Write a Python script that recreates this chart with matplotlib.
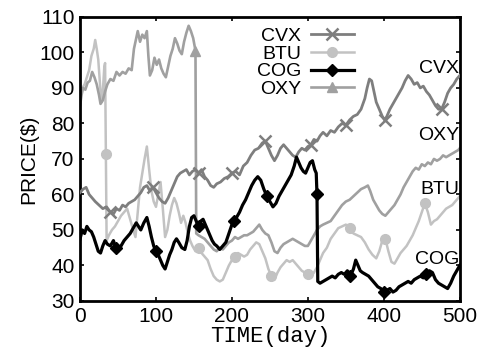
import numpy as np
import matplotlib
matplotlib.use("Agg")
import matplotlib.pyplot as plt
from matplotlib import font_manager

# price series (day, price)
cvx_days = [0, 4, 8, 12, 16, 20, 25, 30, 35, 40, 44, 48, 52, 56, 60, 64, 68, 72, 76, 80,
            84, 88, 92, 96, 100, 104, 108, 112, 116, 120, 124, 128, 132, 136, 140, 144, 148,
            152, 156, 160, 164, 168, 172, 176, 180, 185, 190, 195, 200, 205, 210, 215, 220,
            225, 230, 235, 240, 244, 248, 252, 256, 260, 264, 268, 272, 276, 280, 284, 288,
            292, 296, 300, 304, 308, 312, 316, 320, 325, 330, 335, 340, 345, 350, 355, 360,
            365, 370, 375, 378, 381, 384, 387, 390, 394, 398, 401, 404, 408, 412, 416, 420,
            424, 428, 432, 436, 440, 444, 448, 452, 456, 460, 464, 468, 472, 476, 480, 484,
            488, 492, 496, 500]
cvx = [60.5, 61.5, 62, 60, 59, 58, 57, 56, 56.5, 55, 54.5, 56, 55.5, 57, 56.5, 57.5, 58, 58.5,
       59.5, 60.5, 62, 62.5, 61, 62, 60.5, 59, 58, 57.5, 59, 61, 63, 65, 66, 66.5, 67, 65.5,
       66.5, 67, 66, 67, 65, 64, 62.5, 62, 63, 63.5, 64.5, 65, 66, 66.5, 65.5, 68, 69, 71,
       72.5, 73, 74.5, 75, 73, 71, 69.5, 71, 73, 74, 73, 72, 71, 70.5, 72, 73, 72.5, 73.5, 74,
       75.5, 75, 76.5, 77.5, 76.5, 78, 77.5, 79, 80, 79.5, 81, 82, 82.5, 84, 87, 90, 92.5, 92,
       89, 86, 84, 82, 81, 82, 84, 85.5, 87, 88.5, 90, 92, 93.5, 92.5, 91, 91.5, 90, 90.5, 89,
       88, 86.5, 85, 84, 84, 86, 88.5, 90, 91, 92.5, 93.5]

btu_days = [0, 3, 6, 9, 12, 15, 18, 20, 22, 24, 26, 28, 30, 32, 33, 34, 35, 38, 42, 46, 50,
            54, 58, 62, 66, 70, 73, 76, 79, 82, 85, 88, 91, 94, 97, 100, 103, 106, 109, 112,
            115, 118, 121, 124, 127, 130, 133, 136, 139, 142, 145, 148, 152, 156, 160, 164,
            168, 172, 176, 180, 184, 188, 192, 196, 200, 204, 208, 212, 216, 220, 224, 228,
            232, 236, 240, 244, 248, 252, 256, 260, 264, 268, 272, 276, 280, 284, 288, 292,
            296, 300, 304, 308, 312, 316, 320, 325, 330, 335, 340, 345, 350, 355, 360, 365,
            370, 375, 380, 385, 390, 394, 398, 402, 406, 410, 414, 418, 422, 426, 430, 434,
            438, 442, 446, 450, 454, 458, 462, 466, 470, 474, 478, 482, 486, 490, 494, 498, 500]
btu = [88, 90, 91, 93, 95, 99, 101, 103.5, 101, 98, 92, 86, 89, 96, 97, 71.5, 47, 48.5, 50,
       51, 52.5, 54, 55, 56, 53, 50, 48, 55, 62, 66, 70, 73.5, 67, 61, 58, 56.5, 60, 63.5, 56,
       48, 50, 54, 57, 59, 57.5, 55, 52, 54, 52, 49, 47, 45.5, 44, 45, 43.5, 42.5, 41.5, 39,
       37, 36, 35.5, 36, 38, 40, 41.5, 42.5, 43.5, 43, 42.5, 43, 44.5, 45.5, 46.5, 46, 44, 42,
       39, 37, 36, 38, 39.5, 40.5, 41.5, 41, 41.5, 40.5, 39.5, 38.5, 38, 37.5, 37, 38, 39.5,
       41.5, 43.5, 45, 47.5, 49, 50.5, 51, 51.5, 50.5, 49, 48.5, 48, 46.5, 44.5, 43, 42, 44,
       47, 47.5, 44, 41, 40.5, 42, 43.5, 44.5, 45.5, 47, 48.5, 50.5, 52.5, 55, 57.5, 55, 51.5,
       52.5, 53, 54, 55, 56, 56.5, 57, 58, 59, 59.5]

cog_days = [0, 3, 6, 9, 12, 15, 18, 21, 24, 27, 30, 33, 36, 40, 44, 47, 50, 54, 58, 62, 66,
            70, 74, 77, 80, 84, 88, 91, 94, 97, 100, 103, 106, 109, 112, 115, 118, 121, 124,
            127, 130, 134, 138, 141, 144, 147, 150, 153, 156, 159, 162, 165, 168, 171, 174,
            177, 180, 184, 188, 192, 196, 200, 203, 206, 210, 214, 218, 222, 226, 230, 234,
            238, 242, 246, 250, 254, 258, 262, 266, 270, 274, 278, 282, 285, 288, 291, 294,
            297, 300, 303, 306, 309, 311, 312, 313, 316, 320, 324, 328, 332, 336, 340, 344,
            348, 352, 356, 360, 363, 366, 369, 372, 376, 380, 384, 388, 392, 396, 400, 404,
            408, 412, 416, 420, 424, 428, 432, 436, 440, 444, 448, 452, 456, 460, 464, 468,
            472, 476, 480, 484, 488, 492, 496, 500]
cog = [47.5, 50, 49, 51, 50, 49.5, 48, 46, 44, 43.5, 45.5, 47, 46, 45.5, 47, 45, 44, 45.5, 47,
       48, 49, 50.5, 52, 51, 50, 52, 53.5, 51, 48, 45.5, 44, 43, 41.5, 40, 39, 41, 43, 44.5,
       46.5, 47.5, 46.5, 45, 44.5, 47, 51, 53.5, 54, 52.5, 51, 52.5, 53, 51.5, 50, 48.5, 47,
       46, 45.5, 44.5, 45.5, 46.5, 49, 51.5, 52.5, 53.5, 55, 57, 58.5, 60.5, 62.5, 64, 65, 64,
       61.5, 59.5, 58, 56.5, 57.5, 59.5, 61, 62.5, 64, 65.5, 68, 70.5, 69, 67.5, 66.5, 66,
       67.5, 69, 69.5, 67, 66, 60, 35.5, 35, 35.5, 36, 36.5, 37, 36.5, 37.5, 38, 37.5, 38.5,
       37, 39, 41.5, 40, 38.5, 38, 37.5, 37, 36, 35, 34, 33.5, 32.5, 33, 33.5, 32.5, 33, 34,
       34.5, 35, 35.5, 35, 36, 36.5, 37, 36.5, 37.5, 38.5, 38, 36, 35, 34.5, 34, 33.5, 35, 37,
       38.5, 40]

oxy_days = [0, 2, 4, 7, 10, 13, 16, 19, 22, 25, 27, 30, 33, 36, 40, 44, 48, 52, 56, 60, 64,
            68, 71, 74, 76, 79, 82, 85, 88, 90, 92, 95, 98, 101, 104, 107, 110, 113, 116, 119,
            122, 125, 128, 131, 134, 137, 140, 143, 146, 149, 152, 153, 156, 160, 164, 168,
            172, 176, 180, 184, 188, 192, 196, 200, 204, 208, 212, 216, 220, 224, 228, 232,
            236, 240, 244, 248, 252, 256, 260, 264, 268, 272, 276, 280, 284, 288, 292, 296,
            300, 304, 308, 312, 316, 320, 325, 330, 335, 340, 345, 350, 355, 360, 365, 370,
            375, 379, 382, 386, 390, 394, 398, 402, 406, 410, 414, 418, 422, 426, 430, 434,
            438, 442, 446, 450, 454, 458, 462, 466, 470, 474, 478, 482, 486, 490, 494, 498, 500]
oxy = [85, 88, 90, 89.5, 91.5, 92, 94.5, 93, 91, 88, 85.5, 86.5, 89, 91, 92.5, 92, 94.5, 93.5,
       94.5, 94, 95.5, 95, 101, 104, 106, 103, 105, 104, 106, 99, 93.5, 95, 98.5, 96.5, 98,
       95.5, 94, 93, 96, 99, 101, 104, 102.5, 100.5, 99.5, 103, 105.5, 107.5, 106, 104, 100.5,
       49, 48.5, 48, 47.5, 46.5, 45.5, 44.5, 44, 45, 44.5, 45.5, 46.5, 47, 48, 47.5, 48, 48.5,
       48.5, 49, 49.5, 50.5, 51.5, 50, 49, 48.5, 46.5, 44, 43.5, 45, 46, 46.5, 47, 47.5, 47,
       46.5, 46, 45.5, 45.5, 47, 48.5, 50, 51, 51.5, 52, 52.5, 54, 55.5, 57, 58, 58.5, 59.5,
       60.5, 61.5, 62, 62.5, 61, 58.5, 57, 55.5, 54.5, 54, 55, 56, 57, 58.5, 60, 62, 63.5, 65,
       66.5, 67.5, 67, 68.5, 68, 69, 68.5, 70, 69.5, 70, 71, 70.5, 71, 71.5, 72, 72.5, 73]

# days where the original drew a marker
cvx_marks = [40, 97, 157, 198, 246, 304, 350, 401, 476]
btu_marks = [34, 156, 204, 254, 302, 355, 402, 454]
cog_marks = [47, 100, 156, 203, 246, 312, 356, 400, 456]
oxy_marks = [152]


def mark_idx(days, marks):
    days = np.asarray(days)
    return [int(np.argmin(np.abs(days - m))) for m in marks]


# pick a narrow face if one is installed, otherwise plain Liberation Sans
names = {f.name for f in font_manager.fontManager.ttflist}
narrow = [n for n in ['Liberation Sans Narrow', 'DejaVu Sans Condensed', 'Arial Narrow']
          if n in names] + ['Liberation Sans', 'DejaVu Sans']
have_narrow = narrow[0] != 'Liberation Sans'

plt.rcParams['font.family'] = ['Liberation Sans', 'DejaVu Sans']

fig = plt.figure(figsize=(4.85, 3.52), dpi=100)
ax = fig.add_axes([0.165, 0.145, 0.783, 0.807])

ax.plot(cvx_days, cvx, color='#7e7e7e', lw=2.0, marker='x', ms=8, mew=1.8,
        markevery=mark_idx(cvx_days, cvx_marks), label='CVX', zorder=3)
ax.plot(btu_days, btu, color='#c2c2c2', lw=1.8, marker='o', ms=7,
        markevery=mark_idx(btu_days, btu_marks), label='BTU', zorder=2)
ax.plot(cog_days, cog, color='black', lw=2.3, marker='D', ms=6,
        markevery=mark_idx(cog_days, cog_marks), label='COG', zorder=4)
ax.plot(oxy_days, oxy, color='#a0a0a0', lw=1.9, marker='^', ms=7,
        markevery=mark_idx(oxy_days, oxy_marks), label='OXY', zorder=2)

ax.set_xlim(0, 500)
ax.set_ylim(30, 110)
ax.set_xticks(range(0, 501, 100))
ax.set_yticks(range(30, 111, 10))
ax.tick_params(direction='in', length=3, width=1.2, top=True, right=True,
               labelsize=15, pad=4)
for s in ax.spines.values():
    s.set_linewidth(2)

ax.set_xlabel('TIME(day)', fontsize=16, family=['Liberation Mono', 'DejaVu Sans'],
              labelpad=0)
ax.set_ylabel('PRICE($)', fontsize=15, labelpad=1)

lab_size = 16 if have_narrow else 14
lab_weight = 'bold' if have_narrow else 'normal'
for name, yv in [('CVX', 95.6), ('OXY', 76.5), ('BTU', 61.5), ('COG', 41.8)]:
    ax.text(499, yv, name, ha='right', va='center', fontsize=lab_size,
            family=narrow, weight=lab_weight)

leg = ax.legend(loc='upper left', bbox_to_anchor=(0.43, 1.01), frameon=False,
                markerfirst=False, handlelength=2.2, handletextpad=0.5,
                labelspacing=0.0, borderpad=0.2,
                prop={'family': narrow, 'size': lab_size, 'weight': lab_weight})

fig.savefig('out.png', dpi=100)
